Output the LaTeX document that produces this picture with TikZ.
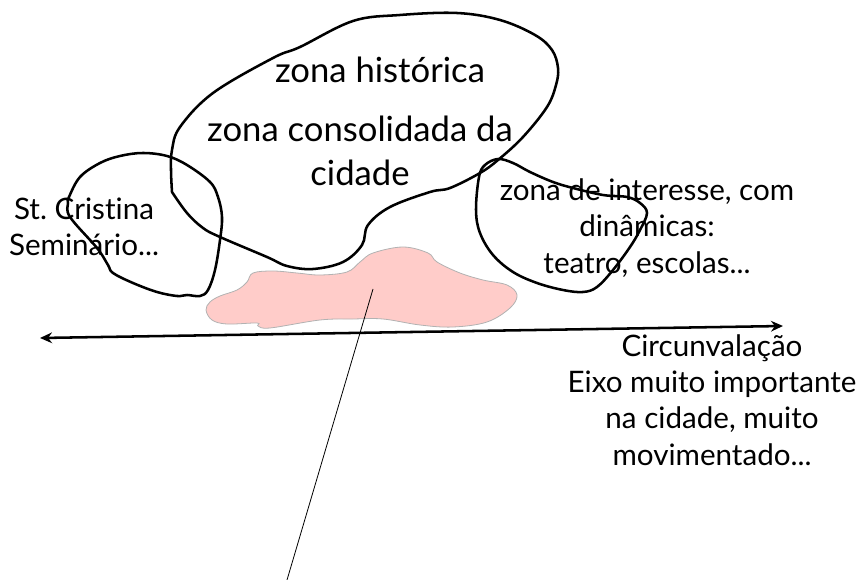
\documentclass[tikz,border=0pt]{standalone}
\usepackage{fontspec}
\setmainfont[Ligatures=NoCommon]{Lato}
\usetikzlibrary{arrows.meta}
\tikzset{
  blob/.style={draw=black,line width=1.9pt,line join=round},
  patch/.style={draw=black!30,line width=0.6pt,fill=pinkfill},
  label/.style={font=\fontsize{22.2}{27.3}\selectfont,align=center,inner sep=0pt,text=black},
  biglabel/.style={font=\fontsize{26}{32.5}\selectfont,align=center,inner sep=0pt,text=black},
  axis/.style={draw=black,line width=1.9pt,{Stealth[length=9pt,width=8pt]}-{Stealth[length=9pt,width=8pt]}},
  leader/.style={draw=black,line width=0.6pt}
}
\definecolor{pinkfill}{RGB}{255,204,201}
\frenchspacing
\begin{document}
\begin{tikzpicture}[x=0.75pt,y=-0.75pt]
\useasboundingbox (0,0) rectangle (862,580);
\draw[patch] plot[smooth cycle,tension=0.6] coordinates {(206,310)(210,302)(220,296)(237,290)(247,282)(253,273)(273,271)(297,273)(320,275)(347,272)(360,262)(373,253)(403,247)(428,253)(437,262)(460,273)(483,280)(507,285)(517,295)(510,308)(487,322)(453,327)(420,325)(383,319)(353,319)(320,320)(270,328)(258,326)(257,323)(227,324)(212,320)};
\draw[blob] plot[smooth,tension=0.6] coordinates {(172,192)(171,170)(172,150)(180,127)(213,93)(273,58)(300,47)(353,21)(400,15)(457,13)(500,20)(535,35)(552,50)(558,68)(556,85)(547,107)(523,137)(498,160)(480,173)(450,188)(430,192)(390,207)(368,225)(362,245)(343,262)(313,269)(287,266)(267,257)(220,237)(203,228)(187,213)(172,192)};
\draw[blob] plot[smooth cycle,tension=0.6] coordinates {(69,197)(80,177)(100,163)(120,156)(143,153)(167,156)(187,165)(210,182)(218,197)(222,217)(220,240)(215,270)(208,290)(200,296)(187,295)(177,296)(157,292)(133,283)(113,273)(108,265)(97,248)(70,217)(68,203)};
\draw[blob] plot[smooth cycle,tension=0.6] coordinates {(498,159)(485,165)(479,177)(476,210)(480,233)(493,255)(513,272)(537,283)(563,290)(583,292)(597,287)(613,270)(630,247)(640,230)(647,213)(640,203)(627,197)(603,195)(573,188)(553,182)(530,172)(513,163)};
\coordinate (leadA) at (373,289);
\coordinate (leadB) at (287,580);
\draw[leader] (leadA) -- (leadB);
\coordinate (axisL) at (40,338);
\coordinate (axisR) at (783,326);
\draw[axis] (axisL) -- (axisR);
\node[biglabel] (hist) at (380,70) {zona histórica};
\node[biglabel] (cons) at (360,151) {zona consolidada da\\cidade};
\node[label] (st) at (84,227) {St. Cristina\\Seminário...};
\node[label] (int) at (647,228) {zona de interesse, com\\dinâmicas:\\teatro, escolas...};
\node[label] (circ) at (712,400) {Circunvalação\\Eixo muito importante\\na cidade, muito\\movimentado...};
\end{tikzpicture}
\end{document}
